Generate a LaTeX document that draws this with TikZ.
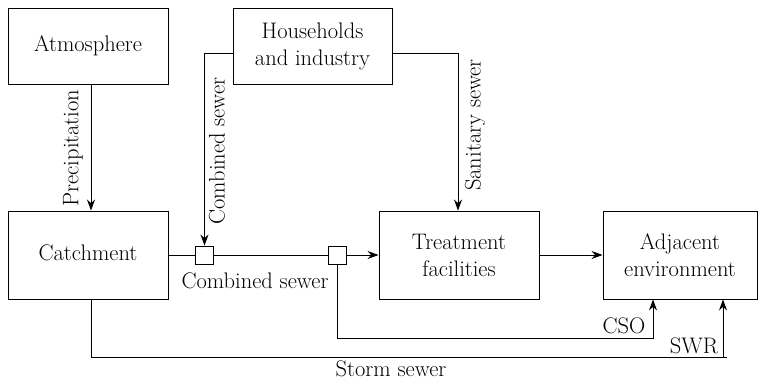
\documentclass[tikz,border=0pt]{standalone}
\usetikzlibrary{arrows.meta}
\begin{document}
\begin{tikzpicture}[x=1pt,y=-1pt,
  every node/.style={font=\fontsize{22.5}{27}\selectfont},
  box/.style={draw,line width=0.9pt,align=center,inner sep=0pt},
  junc/.style={draw,line width=0.9pt,minimum size=18pt,inner sep=0pt},
  flow/.style={line width=0.9pt},
  arr/.style={flow,-{Stealth[length=11pt,width=8pt]}},
  lbl/.style={inner sep=0pt}]
\useasboundingbox (0,0) rectangle (759,382);
\node[box,minimum width=160pt,minimum height=76pt] (atm) at (88,46) {Atmosphere};
\node[box,minimum width=159pt,minimum height=76pt] (hh) at (312.5,46) {Households\\and industry};
\node[box,minimum width=160pt,minimum height=88pt] (catch) at (88,255) {\raisebox{4pt}{Catchment}};
\node[box,minimum width=160pt,minimum height=88pt] (treat) at (459,255) {Treatment\\facilities};
\node[box,minimum width=154pt,minimum height=88pt] (adj) at (680,255) {Adjacent\\environment};
\node[junc] (j1) at (204.5,255) {};
\node[junc] (j2) at (337,255) {};
\coordinate (hl) at (204.5,53);
\coordinate (hr) at (458,53);
\coordinate (cso1) at (337,338);
\coordinate (cso2) at (653,338);
\coordinate (sw1) at (91,357);
\coordinate (sw2) at (723,357);
\coordinate (sw3) at (727,357);
\draw[arr] (atm.south -| 91,0) -- (catch.north -| 91,0);
\draw[arr] (hh.west |- hl) -- (hl) -- (j1.north);
\draw[arr] (hh.east |- hr) -- (hr) -- (treat.north -| hr);
\draw[flow] (catch.east) -- (j1.west);
\draw[flow] (j1.east) -- (j2.west);
\draw[arr] (j2.east) -- (treat.west);
\draw[arr] (treat.east) -- (adj.west);
\draw[arr] (j2.south) -- (cso1) -- (cso2) -- (adj.south -| cso2);
\draw[flow] (catch.south -| sw1) -- (sw1) -- (sw3);
\draw[arr] (sw2) -- (adj.south -| sw2);
\node[lbl,rotate=90] (lp) at (73,148) {Precipitation};
\node[lbl,rotate=90] (lc) at (217,151) {Combined sewer};
\node[lbl,rotate=90] (ls) at (475,125) {Sanitary sewer};
\node[lbl] (lch) at (255,281) {Combined sewer};
\node[lbl] (lcso) at (624,326) {CSO};
\node[lbl] (lswr) at (694,346) {SWR};
\node[lbl,anchor=base] (lst) at (391,376) {Storm sewer};
\end{tikzpicture}
\end{document}
